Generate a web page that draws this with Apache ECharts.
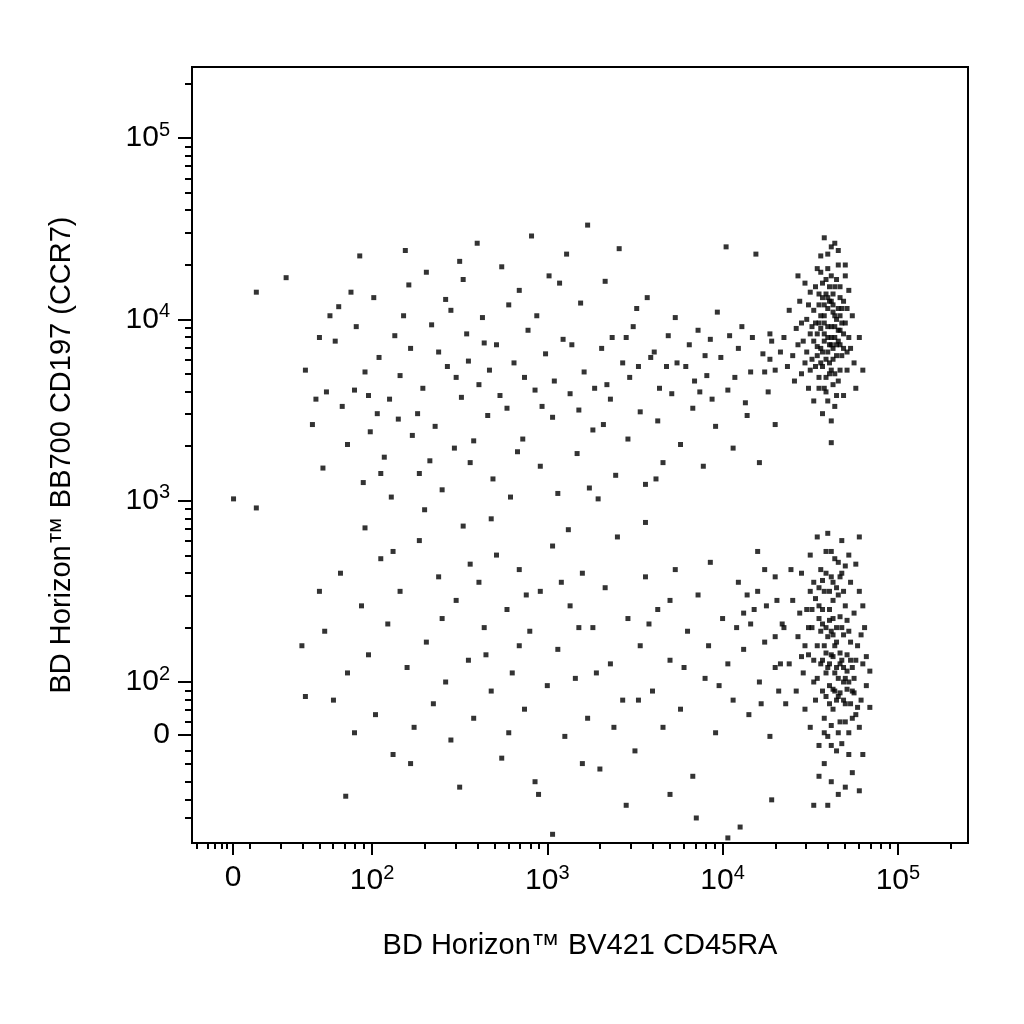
<!DOCTYPE html><html><head><meta charset="utf-8"><script src="https://cdn.jsdelivr.net/npm/echarts@6/dist/echarts.min.js"></script></head><body style="margin:0"><div id="c" style="width:1024px;height:1024px"></div><script>
// Values in display units (decades on the biexponential scale; "0" at 1.207 on x, 1.708 on y)
const xTickLabels=[[1.207,'0'],[2,'10|2'],[3,'10|3'],[4,'10|4'],[5,'10|5']];
const yTickLabels=[[1.708,'0'],[2,'10|2'],[3,'10|3'],[4,'10|4'],[5,'10|5']];
const upperScatter=[[1.21,3.01],[1.34,2.96],[1.34,4.15],[1.51,4.23],[1.93,4.35],[2.19,4.38],[1.62,3.72],[1.66,3.42],[1.72,3.18],[1.76,4.02],[1.79,3.88],[1.83,3.52],[1.81,4.07],[1.86,3.31],[1.9,3.61],[1.91,3.96],[1.95,3.1],[1.96,3.71],[1.99,3.38],[2.01,4.12],[2.04,3.79],[2.07,3.24],[2.1,3.56],[2.13,3.91],[2.11,3.02],[2.16,3.69],[2.21,4.19],[2.23,3.36],[2.22,3.84],[2.27,3.15],[2.31,4.26],[2.29,3.62],[2.34,3.97],[2.36,3.41],[2.4,3.06],[2.42,4.11],[2.43,3.74],[2.47,3.29],[2.5,4.32],[2.51,3.57],[2.54,3.92],[2.56,3.21],[2.6,4.42],[2.61,3.64],[2.63,4.01],[2.66,3.47],[2.69,3.12],[2.71,3.86],[2.74,4.29],[2.77,3.51],[2.79,3.02],[2.81,3.76],[2.84,4.16],[2.86,3.34],[2.89,3.94],[2.91,4.46],[2.93,3.61],[2.96,3.19],[2.99,3.81],[3.01,4.24],[3.03,3.46],[3.06,3.04],[3.09,3.89],[3.11,4.36],[3.13,3.59],[3.17,3.26],[3.19,4.09],[3.21,3.71],[3.23,4.52],[3.26,3.39],[3.29,3.01],[3.31,3.84],[3.33,4.21],[3.36,3.56],[3.39,3.14],[3.41,4.39],[3.43,3.76],[3.46,3.34],[3.49,3.96],[3.51,4.06],[3.53,3.49],[3.56,3.09],[3.59,3.79],[3.61,3.82],[3.63,3.44],[3.66,3.21],[3.69,3.91],[3.71,3.59],[3.73,4.01],[3.76,3.31],[3.79,3.74],[3.81,3.86],[3.83,3.51],[3.86,3.94],[3.89,3.19],[3.91,3.69],[3.93,3.89],[3.96,3.41],[3.99,3.79],[4.02,4.4],[4.03,3.61],[4.06,3.29],[4.09,3.84],[4.11,3.96],[4.13,3.54],[4.16,3.71],[4.19,4.36],[4.21,3.21],[4.23,3.81],[4.26,3.6],[1.7,3.9],[1.88,4.15],[2.05,3.15],[2.26,3.48],[2.38,3.82],[2.45,4.05],[2.58,3.33],[2.67,3.72],[2.73,3.58],[2.83,3.27],[2.94,4.02],[3.04,3.66],[3.14,3.86],[3.24,3.07],[3.34,3.64],[3.47,3.68],[3.57,4.12],[3.64,3.62],[3.74,3.76],[3.84,3.66],[3.94,3.56],[4.04,3.91],[4.14,3.47],[4.24,3.71],[4.28,3.88],[4.3,3.42],[1.68,3.56],[1.98,3.58],[2.33,3.22],[2.52,4.22],[2.78,4.08],[3.07,4.2],[3.37,3.9],[3.62,3.12],[3.87,3.6],[4.17,3.9],[2.15,3.45],[2.64,3.87],[3.18,3.5],[3.52,3.74],[3.97,4.04],[1.74,3.6],[2.03,3.48],[2.48,3.68],[2.87,3.68],[3.27,3.62],[3.45,3.9],[3.68,3.74],[3.9,3.8],[4.07,3.68],[4.27,3.78],[2.18,4.02],[2.55,3.77],[2.97,3.52],[3.32,3.42]];
const upperCluster=[[4.35,3.9],[4.38,4.05],[4.4,3.8],[4.42,3.95],[4.44,4.1],[4.45,3.7],[4.46,3.88],[4.47,4.2],[4.48,4.0],[4.49,3.62],[4.5,3.92],[4.5,4.15],[4.51,3.78],[4.52,4.05],[4.52,3.55],[4.53,3.98],[4.54,4.28],[4.54,3.85],[4.55,3.68],[4.55,4.08],[4.56,3.95],[4.56,4.35],[4.57,3.74],[4.57,4.12],[4.58,3.88],[4.58,4.02],[4.59,3.6],[4.59,4.22],[4.6,3.82],[4.6,3.96],[4.61,4.1],[4.61,3.7],[4.62,4.4],[4.62,3.9],[4.63,4.04],[4.63,3.78],[4.64,3.52],[4.64,4.18],[4.65,3.86],[4.65,4.0],[4.66,3.66],[4.66,4.3],[4.67,3.94],[4.67,4.12],[4.68,3.8],[4.68,4.06],[4.69,3.58],[4.7,3.98],[4.7,4.24],[4.71,3.72],[4.72,3.9],[4.72,4.16],[4.73,3.84],[4.74,4.02],[4.75,3.76],[4.76,3.62],[4.57,3.48],[4.62,3.44],[4.48,3.82],[4.53,4.18],[4.6,4.28],[4.64,3.96],[4.58,3.92],[4.66,3.88],[4.55,3.98],[4.63,4.08],[4.52,3.88],[4.69,3.92],[4.61,3.86],[4.56,3.84],[4.67,4.02],[4.59,4.14],[4.5,3.72],[4.41,3.66],[4.37,3.74],[4.33,3.82],[4.3,3.72],[4.27,3.92],[4.43,4.24],[4.58,4.45],[4.64,4.42],[4.78,3.9],[4.8,3.72],[4.62,3.32],
[4.54,3.92],[4.56,4.02],[4.58,3.98],[4.6,4.06],[4.62,3.96],[4.64,4.02],[4.66,3.94],[4.68,3.98],[4.57,3.82],[4.59,3.78],[4.61,3.76],[4.63,3.84],[4.65,3.8],[4.67,3.86],[4.69,3.84],[4.55,4.14],[4.57,4.2],[4.61,4.18],[4.63,4.14],[4.65,4.22],[4.67,4.18],[4.53,3.74],[4.55,3.62],[4.59,3.68],[4.63,3.64],[4.67,3.72],[4.71,3.82],[4.71,4.06],[4.69,4.1],[4.51,3.96],[4.49,4.08],[4.47,3.76],[4.45,3.98],[4.43,3.86],[4.6,4.36],[4.66,4.38],[4.56,4.26],[4.62,4.24],[4.7,4.3],[4.65,3.58],[4.6,3.55],[4.58,3.62],[4.64,3.7],[4.62,3.72],[4.56,3.76],[4.54,3.8],[4.6,3.9],[4.62,3.86],[4.64,3.9],[4.66,4.06],[4.58,4.08],[4.6,4.12],[4.62,4.1]];
const lowerScatter=[[1.85,1.37],[3.03,1.16],[4.03,1.14],[1.6,2.2],[1.62,1.92],[1.7,2.5],[1.73,2.28],[1.78,1.9],[1.82,2.6],[1.86,2.05],[1.9,1.72],[1.94,2.42],[1.98,2.15],[2.02,1.82],[2.05,2.68],[2.09,2.32],[2.12,1.6],[2.16,2.5],[2.2,2.08],[2.24,1.75],[2.27,2.78],[2.31,2.22],[2.35,1.88],[2.38,2.58],[2.42,2.0],[2.45,1.68],[2.48,2.45],[2.52,2.86],[2.55,2.12],[2.58,1.8],[2.61,2.55],[2.64,2.3],[2.68,1.95],[2.71,2.7],[2.74,1.58],[2.77,2.4],[2.8,2.05],[2.84,2.62],[2.87,1.85],[2.9,2.28],[2.93,1.45],[2.96,2.5],[3.0,1.98],[3.03,2.75],[3.06,2.18],[3.1,1.7],[3.13,2.42],[3.16,2.02],[3.2,2.6],[3.23,1.8],[3.26,2.3],[3.3,1.52],[3.33,2.52],[3.36,2.1],[3.4,2.8],[3.43,1.9],[3.46,2.35],[3.5,1.62],[3.53,2.2],[3.56,2.58],[3.6,1.95],[3.63,2.4],[3.66,1.75],[3.7,2.12],[3.73,2.62],[3.76,1.85],[3.8,2.28],[3.83,1.48],[3.86,2.48],[3.9,2.02],[3.93,2.66],[3.96,1.72],[4.0,2.35],[4.03,2.1],[4.06,1.9],[4.09,2.55],[4.12,2.18],[4.15,1.82],[4.18,2.4],[4.21,2.0],[4.24,2.62],[4.27,1.7],[4.3,2.25],[4.32,1.95],[2.5,1.42],[2.95,1.38],[3.2,1.55],[3.45,1.32],[3.7,1.38],[3.85,1.25],[4.1,1.2],[4.28,1.35],[2.3,2.95],[2.68,2.9],[3.12,2.84],[3.56,2.88],[2.12,2.72],[1.96,2.85],[2.65,2.15],[2.88,2.48],[3.28,2.05],[3.58,2.32],[3.78,2.08],[4.14,2.48],[4.2,2.72],[4.3,2.58],[4.25,2.42],[4.34,2.32],[4.08,2.3],[3.92,2.2],[3.7,2.45],[2.4,2.35],[2.78,1.72],[3.38,1.75],[3.98,1.98],[4.22,1.88],[2.22,1.55],[2.56,2.65],[3.08,2.55],[4.16,2.32],[4.24,2.22],[4.3,2.08],[4.2,2.5],[4.12,2.38],[2.84,2.2],[3.18,2.3],[3.52,1.9]];
const lowerCluster=[[4.35,2.3],[4.38,2.1],[4.4,2.45],[4.42,1.95],[4.43,2.25],[4.45,2.6],[4.46,2.05],[4.47,1.85],[4.48,2.4],[4.49,2.15],[4.5,2.7],[4.5,1.75],[4.51,2.3],[4.52,2.0],[4.52,2.55],[4.53,1.9],[4.54,2.2],[4.54,2.8],[4.55,1.65],[4.55,2.42],[4.56,2.1],[4.56,2.62],[4.57,1.95],[4.57,2.32],[4.58,1.8],[4.58,2.5],[4.59,2.05],[4.59,2.72],[4.6,2.25],[4.6,1.7],[4.61,2.4],[4.61,1.98],[4.62,2.58],[4.62,2.15],[4.63,1.85],[4.63,2.35],[4.64,2.05],[4.64,2.68],[4.65,1.62],[4.65,2.22],[4.66,1.92],[4.66,2.48],[4.67,2.1],[4.67,1.78],[4.68,2.3],[4.68,2.6],[4.69,2.0],[4.7,1.88],[4.7,2.42],[4.71,2.15],[4.72,1.72],[4.72,2.28],[4.73,2.55],[4.74,1.95],[4.74,2.08],[4.75,2.38],[4.76,1.82],[4.77,2.2],[4.78,2.5],[4.79,1.9],[4.8,2.1],[4.81,2.3],[4.82,1.98],[4.58,1.55],[4.62,1.45],[4.66,1.38],[4.7,1.42],[4.74,1.5],[4.78,1.4],[4.8,1.6],[4.55,1.48],[4.6,2.82],[4.68,2.78],[4.72,2.7],[4.76,2.65],[4.78,2.8],[4.52,2.12],[4.6,2.08],[4.64,2.2],[4.68,2.12],[4.58,2.2],[4.62,2.28],[4.7,2.02],[4.66,2.02],[4.54,2.02],[4.72,2.0],[4.64,1.95],[4.56,2.28],[4.63,2.45],[4.69,2.5],[4.5,2.5],[4.44,2.38],[4.39,2.62],[4.36,1.88],[4.33,2.1],[4.31,2.45],[4.6,1.32],[4.52,1.32],
[4.55,2.35],[4.57,2.4],[4.59,2.3],[4.61,2.34],[4.63,2.26],[4.65,2.3],[4.67,2.36],[4.69,2.26],[4.71,2.34],[4.73,2.22],[4.57,2.12],[4.59,2.16],[4.61,2.1],[4.63,2.14],[4.65,2.08],[4.67,2.16],[4.69,2.08],[4.71,2.06],[4.73,2.12],[4.75,2.02],[4.59,1.92],[4.61,1.88],[4.63,1.96],[4.65,1.9],[4.67,1.94],[4.69,1.9],[4.71,1.96],[4.73,1.88],[4.75,1.94],[4.77,1.86],[4.61,2.5],[4.63,2.55],[4.65,2.52],[4.67,2.58],[4.59,2.6],[4.57,2.56],[4.55,2.52],[4.53,2.46],[4.51,2.4],[4.49,2.3],[4.47,2.2],[4.45,2.14],[4.58,1.72],[4.62,1.76],[4.66,1.72],[4.7,1.78],[4.74,1.8],[4.78,1.75],[4.76,2.12],[4.79,2.26],[4.82,2.14],[4.8,2.42],[4.84,2.06],[4.84,1.86],[4.62,1.65],[4.68,1.66],[4.72,1.6],[4.66,2.66],[4.62,2.72],[4.7,2.64]];
function lg(){const r=[];for(let n=1;n<=5;n++)for(let k=2;k<=9;k++){const v=n+Math.log10(k);r.push(+v.toFixed(3));}return r;}
const xMinor=lg().filter(v=>v>1.25&&v<5.4).concat([1.0,1.06,1.1,1.14,1.17]);
const yMinor=lg().filter(v=>v>1.75&&v<5.4).concat([1.62,1.55,1.45,1.35,1.25]);
const rich={b:{fontSize:30,fontFamily:'Liberation Sans',color:'#000'},s:{fontSize:20,fontFamily:'Liberation Sans',color:'#000',verticalAlign:'top',padding:[0,0,16,0]}};
function fmt(v,labels){const l=labels.find(t=>Math.abs(t[0]-v)<1e-3);if(!l)return '';const p=l[1].split('|');return p.length>1?'{b|'+p[0]+'}{s|'+p[1]+'}':'{b|'+p[0]+'}';}
const XR=[0.973,5.4],YR=[1.112,5.392];
const axBase={type:'value',splitLine:{show:false}};
const chart=echarts.init(document.getElementById('c'));
chart.setOption({animation:false,backgroundColor:'#fff',
grid:{left:192,right:56,top:67,bottom:181,show:true,borderColor:'#000',borderWidth:2,backgroundColor:'transparent'},
xAxis:[{...axBase,min:XR[0],max:XR[1],name:'BD Horizon™ BV421 CD45RA',nameLocation:'middle',nameGap:88,nameTextStyle:{fontSize:29,fontFamily:'Liberation Sans',color:'#000'},
 axisLine:{lineStyle:{color:'#000',width:2}},axisTick:{customValues:xTickLabels.map(t=>t[0]),length:12,lineStyle:{color:'#000',width:2}},
 axisLabel:{customValues:xTickLabels.map(t=>t[0]),margin:20,formatter:v=>fmt(v,xTickLabels),rich}},
 {...axBase,min:XR[0],max:XR[1],position:'bottom',axisLine:{show:false},axisLabel:{show:false},axisTick:{customValues:xMinor,length:6,lineStyle:{color:'#000',width:2}}}],
yAxis:[{...axBase,min:YR[0],max:YR[1],name:'BD Horizon™ BB700 CD197 (CCR7)',nameLocation:'middle',nameGap:116,nameTextStyle:{fontSize:29,fontFamily:'Liberation Sans',color:'#000'},
 axisLine:{lineStyle:{color:'#000',width:2}},axisTick:{customValues:yTickLabels.map(t=>t[0]),length:14,lineStyle:{color:'#000',width:2}},
 axisLabel:{customValues:yTickLabels.map(t=>t[0]),margin:22,formatter:v=>fmt(v,yTickLabels),rich}},
 {...axBase,min:YR[0],max:YR[1],position:'left',axisLine:{show:false},axisLabel:{show:false},axisTick:{customValues:yMinor,length:7,lineStyle:{color:'#000',width:2}}}],
series:[upperScatter,upperCluster,lowerScatter,lowerCluster].map(d=>({type:'scatter',data:d,symbol:'rect',symbolSize:5,itemStyle:{color:'#000'},xAxisIndex:0,yAxisIndex:0}))
});
</script></body></html>
